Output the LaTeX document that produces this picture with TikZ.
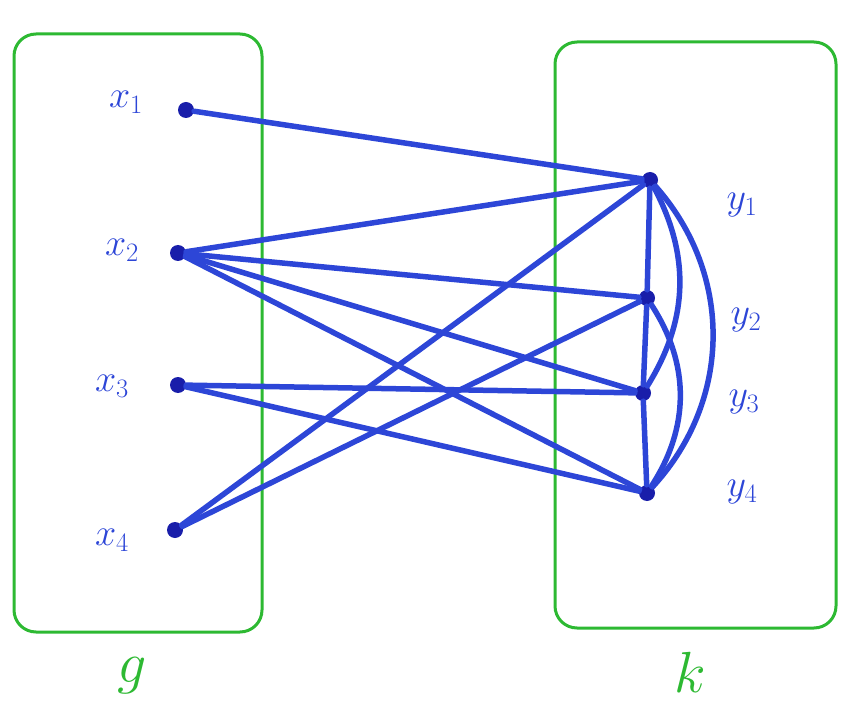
\RequirePackage{fix-cm}
\documentclass[tikz,border=0pt]{standalone}
\usepackage{tikz}
\definecolor{pen}{RGB}{45,70,215}
\definecolor{dotc}{RGB}{25,30,170}
\definecolor{grn}{RGB}{45,185,50}
\begin{document}
\begin{tikzpicture}[x=1pt,y=-1pt,
  vtx/.style={circle,fill=dotc,inner sep=0pt,minimum size=16pt},
  edge/.style={draw=pen,line width=5.5pt,line cap=round},
  lab/.style={text=pen,font=\fontsize{38}{42}\selectfont},
  setbox/.style={draw=grn,line width=3pt,rounded corners=22pt},
  setlab/.style={text=grn,font=\fontsize{58}{64}\selectfont}]
\useasboundingbox (0,0) rectangle (848,708);
% sets
\draw[setbox] (14,34) rectangle (262,632);
\draw[setbox] (555,42) rectangle (836,628);
\node[setlab] (g) at (132,676) {$g$};
\node[setlab] (k) at (690,672) {$k$};
% vertices
\node[vtx] (x1) at (186,110) {};
\node[vtx] (x2) at (178,253) {};
\node[vtx] (x3) at (178,385) {};
\node[vtx] (x4) at (175,530) {};
\node[vtx] (y1) at (650,180) {};
\node[vtx] (y2) at (647,298) {};
\node[vtx] (y3) at (643,393) {};
\node[vtx] (y4) at (647,493) {};
% labels
\node[lab] (lx1) at (126,102) {$x_1$};
\node[lab] (lx2) at (122,250) {$x_2$};
\node[lab] (lx3) at (112,386) {$x_3$};
\node[lab] (lx4) at (112,540) {$x_4$};
\node[lab] (ly1) at (742,205) {$y_1$};
\node[lab] (ly2) at (746,320) {$y_2$};
\node[lab] (ly3) at (744,402) {$y_3$};
\node[lab] (ly4) at (742,492) {$y_4$};
% edges between sets
\draw[edge] (x1) -- (y1);
\draw[edge] (x2) -- (y1);
\draw[edge] (x2) -- (y2);
\draw[edge] (x2) -- (y3);
\draw[edge] (x2) -- (y4);
\draw[edge] (x3) -- (y3);
\draw[edge] (x3) -- (y4);
\draw[edge] (x4) -- (y1);
\draw[edge] (x4) -- (y2);
% edges within k
\draw[edge] (y1) -- (y2);
\draw[edge] (y2) -- (y3);
\draw[edge] (y3) -- (y4);
\draw[edge] (y1) to[bend left=30] (y3);
\draw[edge] (y2) to[bend left=33] (y4);
\draw[edge] (y1) to[bend left=42] (y4);
\end{tikzpicture}
\end{document}
